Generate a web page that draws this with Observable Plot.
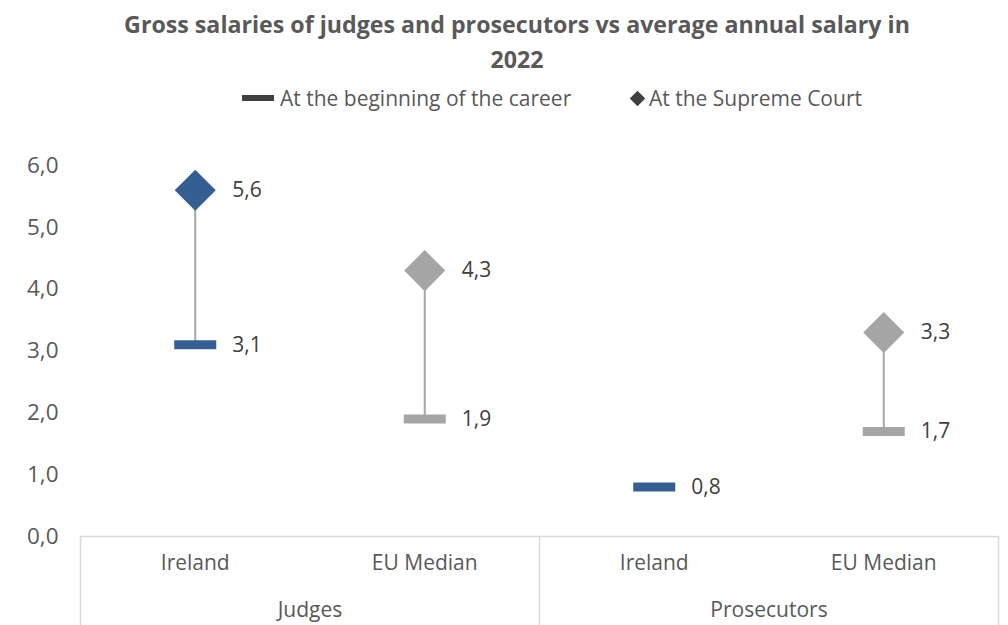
<!DOCTYPE html>
<html>
<head>
<meta charset="utf-8">
<script src="https://cdn.jsdelivr.net/npm/d3@7"></script>
<script src="https://cdn.jsdelivr.net/npm/@observablehq/plot@0.6"></script>
<style>
  html, body { margin: 0; padding: 0; background: #fff; }
  body { width: 1008px; height: 625px; position: relative; overflow: hidden; font-family: "Open Sans", sans-serif; }
  #title { position: absolute; top: 7px; left: 26px; width: 982px; text-align: center; font-weight: bold; font-size: 23.2px; line-height: 35px; color: #595959; }
  .leg { position: absolute; top: 83px; font-size: 21px; color: #595959; line-height: 30px; white-space: nowrap; }
  .sw-bar { display: inline-block; width: 32px; height: 6px; background: #404040; vertical-align: middle; margin-right: 6px; position: relative; top: -2px; }
  .sw-dia { display: inline-block; width: 11px; height: 11px; background: #404040; transform: rotate(45deg); vertical-align: middle; margin-right: 6px; margin-left: 2px; position: relative; top: -2px; }
  #chart { position: absolute; top: 125px; left: 0; }
</style>
</head>
<body>
<div id="title">Gross salaries of judges and prosecutors vs average annual salary in<br>2022</div>
<div class="leg" style="left:242px"><span class="sw-bar"></span>At the beginning of the career</div>
<div class="leg" style="left:630px"><span class="sw-dia"></span>At the Supreme Court</div>
<div id="chart"></div>
<script>
const categories = ["Ireland", "EU Median", "Ireland", "EU Median"];
const groups = ["Judges", "Judges", "Prosecutors", "Prosecutors"];
const beginning = [3.1, 1.9, 0.8, 1.7];
const supreme = [5.6, 4.3, null, 3.3];
const yTicks = [0, 1, 2, 3, 4, 5, 6];

const rows = categories.map((c, k) => ({
  pos: k + 0.5, country: c, group: groups[k], begin: beginning[k], supreme: supreme[k]
}));
const withSupreme = rows.filter(d => d.supreme != null);
const groupRows = Array.from(d3.group(rows, d => d.group), ([g, v]) => ({group: g, pos: d3.mean(v, d => d.pos)}));
const fmt = v => v.toFixed(1).replace(".", ",");

const barSymbol = { draw(ctx) { ctx.rect(-21, -4.5, 42, 9); } };

const chart = Plot.plot({
  width: 1008,
  height: 500,
  marginLeft: 80,
  marginRight: 10,
  marginTop: 40,
  marginBottom: 89,
  style: { fontFamily: "Open Sans, sans-serif", fontSize: "21px", color: "#595959", background: "#fff" },
  x: { domain: [0, categories.length], axis: null },
  y: { domain: [0, 6], axis: null },
  color: { domain: ["Ireland", "EU Median"], range: ["#355F92", "#A5A5A5"] },
  marks: [
    Plot.axisY({ ticks: yTicks, tickSize: 0, tickPadding: 22, tickFormat: fmt, label: null, fontSize: 22.5 }),
    Plot.axisX({ ticks: [0, 2, 4], tickSize: 90, tickFormat: () => "", stroke: "#d9d9d9", strokeWidth: 1.5, label: null }),
    Plot.ruleY([0], { stroke: "#d9d9d9", strokeWidth: 1.5 }),
    Plot.ruleX(withSupreme, { x: "pos", y1: "begin", y2: "supreme", stroke: "#A5A5A5", strokeWidth: 2 }),
    Plot.dot(rows, { x: "pos", y: "begin", symbol: barSymbol, r: 10, fill: "country" }),
    Plot.dot(withSupreme, { x: "pos", y: "supreme", symbol: "diamond2", r: 18.5, fill: "country" }),
    Plot.text(rows, { x: "pos", y: "begin", text: d => fmt(d.begin), dx: 37, textAnchor: "start", fill: "#404040", fontSize: 21 }),
    Plot.text(withSupreme, { x: "pos", y: "supreme", text: d => fmt(d.supreme), dx: 37, textAnchor: "start", fill: "#404040", fontSize: 21 }),
    Plot.text(rows, { x: "pos", text: "country", frameAnchor: "bottom", dy: 33, fill: "#595959", fontSize: 21 }),
    Plot.text(groupRows, { x: "pos", text: "group", frameAnchor: "bottom", dy: 80, fill: "#595959", fontSize: 21 })
  ]
});
document.getElementById("chart").appendChild(chart);
</script>
</body>
</html>
